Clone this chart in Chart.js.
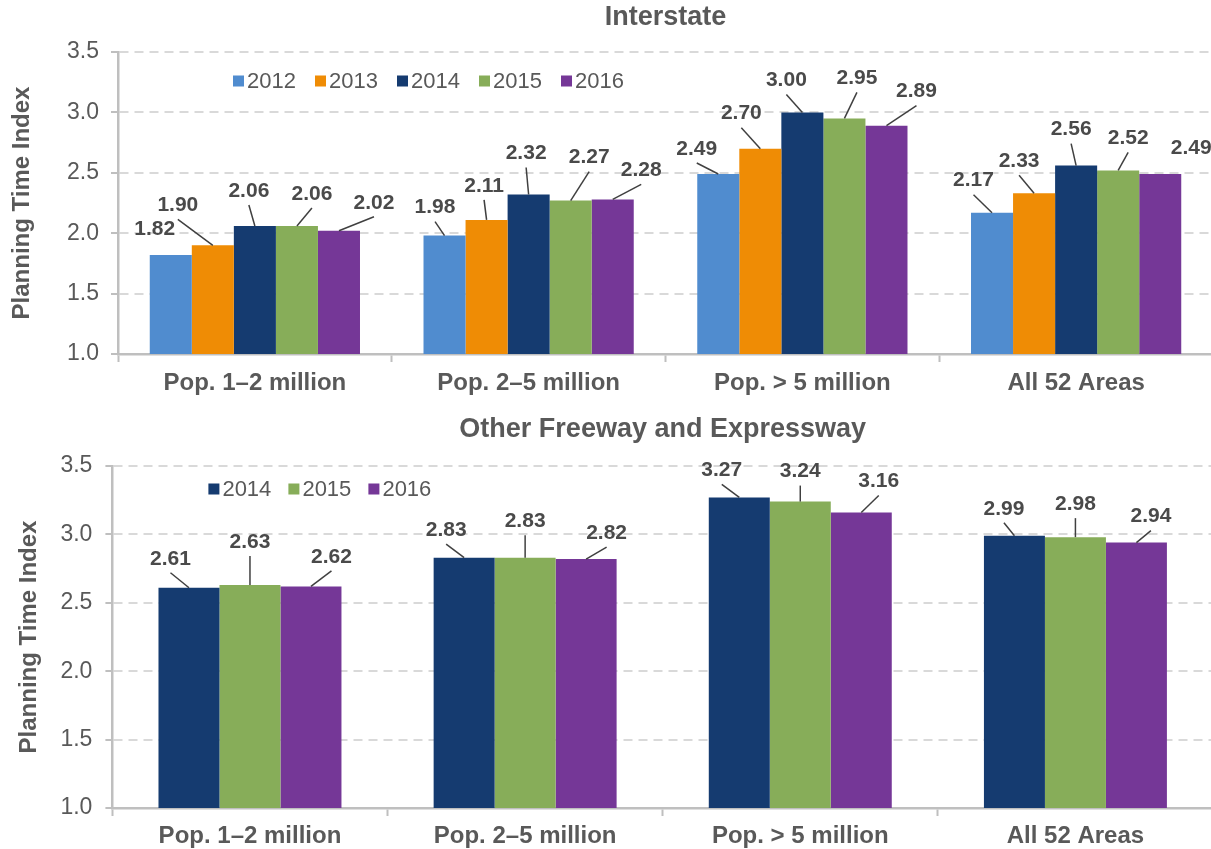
<!DOCTYPE html>
<html><head><meta charset="utf-8">
<script src="https://cdn.jsdelivr.net/npm/chart.js@4.4.0/dist/chart.umd.min.js"></script>
<style>
html,body{margin:0;padding:0;background:#fff;overflow:hidden;width:1211px;height:849px;}
#wrap{position:relative;width:1211px;height:849px;overflow:hidden;}
canvas{position:absolute;left:0;}
#c1{top:0;} #c2{top:410px;}
</style></head><body>
<div id="wrap">
<canvas id="c1" width="1213" height="410"></canvas>
<canvas id="c2" width="1213" height="439"></canvas>
</div>
<script>
// ---- data ----
const categories = ['Pop. 1\u20132 million', 'Pop. 2\u20135 million', 'Pop. > 5 million', 'All 52 Areas'];
const yTickValues = [1.0, 1.5, 2.0, 2.5, 3.0, 3.5];

const interstate2012 = [1.82, 1.98, 2.49, 2.17];
const interstate2013 = [1.90, 2.11, 2.70, 2.33];
const interstate2014 = [2.06, 2.32, 3.00, 2.56];
const interstate2015 = [2.06, 2.27, 2.95, 2.52];
const interstate2016 = [2.02, 2.28, 2.89, 2.49];

const other2014 = [2.61, 2.83, 3.27, 2.99];
const other2015 = [2.63, 2.83, 3.24, 2.98];
const other2016 = [2.62, 2.82, 3.16, 2.94];

// ---- styles ----
const colors = {'2012':'#508ccf','2013':'#ef8c05','2014':'#153b70','2015':'#87ad59','2016':'#753797'};
const FONT = '"Liberation Sans", Arial, Helvetica, sans-serif';
const GRAY = '#595959';
Chart.defaults.font.family = FONT;
Chart.defaults.color = GRAY;

// label placement (offsets of label centre from bar top, leader line flag)
const interstateLabelPos = [
  [[-16,-27,0],[-9.5,-29,1],[-21.5,-26,1],[-18.5,-33,1]],
  [[-35,-41,1],[-2.5,-35,1],[-19,-36,1],[-15,-33,1]],
  [[-6,-36,1],[-2.5,-42,1],[-16,-33,1],[-5,-37,1]],
  [[15,-33,1],[18.5,-44,1],[12.5,-41,1],[10,-33,1]],
  [[35,-29,1],[28.5,-30,1],[30,-35,1],[31,-27,0]]
];
const otherLabelPos = [
  [[-18.5,-30,1],[-18,-28.5,1],[-17.5,-28,1],[-10.5,-28,1]],
  [[0,-44,1],[0,-37.5,1],[0,-31,1],[0,-34,1]],
  [[20.5,-30.5,1],[20.5,-27,1],[17.5,-32,1],[14.5,-27,1]]
];

const inAreaLegend = {
  id: 'inAreaLegend',
  afterDraw(chart, args, opts) {
    const {ctx, chartArea} = chart;
    ctx.save();
    ctx.font = '22px ' + FONT;
    ctx.textBaseline = 'middle';
    ctx.textAlign = 'left';
    chart.data.datasets.forEach((ds, i) => {
      const x = chartArea.left + opts.left + i * opts.spacing;
      const y = chartArea.top + opts.top;
      ctx.fillStyle = ds.backgroundColor;
      ctx.fillRect(x, y - opts.box / 2, opts.box, opts.box);
      ctx.fillStyle = GRAY;
      ctx.fillText(ds.label, x + opts.box + 3, y + 1);
    });
    ctx.restore();
  }
};

const leaderLabels = {
  id: 'leaderLabels',
  afterDatasetsDraw(chart, args, opts) {
    const {ctx} = chart;
    ctx.save();
    ctx.font = 'bold 21px ' + FONT;
    ctx.textAlign = 'center';
    ctx.textBaseline = 'middle';
    ctx.strokeStyle = '#404040';
    ctx.lineWidth = 1.5;
    ctx.fillStyle = '#4a4a4a';
    chart.data.datasets.forEach((ds, di) => {
      const meta = chart.getDatasetMeta(di);
      meta.data.forEach((bar, i) => {
        const [dx, dy, line] = opts.pos[di][i];
        const tx = bar.x + dx, ty = bar.y + dy;
        if (line) {
          ctx.beginPath();
          ctx.moveTo(tx, ty + 15);
          ctx.lineTo(bar.x, bar.y);
          ctx.stroke();
        }
        ctx.fillText(ds.data[i].toFixed(2), tx, ty + 1);
      });
    });
    ctx.restore();
  }
};

function makeDataset(label, data) {
  return {label, data, backgroundColor: colors[label], borderWidth: 0};
}

function makeOptions(cfg) {
  return {
    responsive: false,
    animation: false,
    devicePixelRatio: 1,
    layout: {padding: 0},
    plugins: {
      legend: {display: false},
      tooltip: {enabled: false},
      title: {
        display: true, text: cfg.title, fullSize: false,
        color: GRAY, font: {size: 27, weight: 'bold', lineHeight: 1.2},
        padding: {top: cfg.titleTop, bottom: cfg.titleBottom}
      },
      inAreaLegend: cfg.legend,
      leaderLabels: {pos: cfg.labelPos}
    },
    datasets: {bar: {categoryPercentage: cfg.catPct, barPercentage: 1}},
    scales: {
      x: {
        type: 'category',
        afterFit: (s) => { s.height = cfg.xHeight; },
        grid: {offset: true, drawOnChartArea: false, drawTicks: true, tickLength: 8,
               tickColor: '#bfbfbf', tickWidth: 2},
        border: {display: true, color: '#bfbfbf', width: 2.5},
        ticks: {font: {size: 24, weight: 'bold', lineHeight: 1.2}, color: GRAY, padding: cfg.xPad, maxRotation: 0}
      },
      y: {
        min: yTickValues[0], max: yTickValues[yTickValues.length - 1],
        afterFit: (s) => { s.width = cfg.yWidth; },
        afterBuildTicks: (axis) => { axis.ticks = yTickValues.map(v => ({value: v})); },
        ticks: {font: {size: 23}, color: GRAY, padding: cfg.yPad, callback: (v) => Number(v).toFixed(1)},
        grid: {color: '#d9d9d9', lineWidth: 2, drawTicks: true, tickLength: 7,
               tickColor: '#bfbfbf', tickWidth: 2, tickBorderDash: []},
        border: {display: true, color: '#bfbfbf', width: 2.5, dash: [9, 6]},
        title: {display: true, text: 'Planning Time Index', color: GRAY,
                font: {size: 24, weight: 'bold', lineHeight: 1.2}, padding: {top: cfg.yTitleTop, bottom: 0}}
      }
    }
  };
}

new Chart(document.getElementById('c1'), {
  type: 'bar',
  data: {
    labels: categories,
    datasets: [
      makeDataset('2012', interstate2012),
      makeDataset('2013', interstate2013),
      makeDataset('2014', interstate2014),
      makeDataset('2015', interstate2015),
      makeDataset('2016', interstate2016)
    ]
  },
  options: makeOptions({
    title: 'Interstate', titleTop: 1.8, titleBottom: 17.8,
    legend: {left: 115, top: 29, spacing: 82, box: 11},
    labelPos: interstateLabelPos, catPct: 0.768,
    xHeight: 56, xPad: 6.6, yWidth: 118, yPad: 12, yTitleTop: 7.6
  }),
  plugins: [inAreaLegend, leaderLabels]
});

new Chart(document.getElementById('c2'), {
  type: 'bar',
  data: {
    labels: categories,
    datasets: [
      makeDataset('2014', other2014),
      makeDataset('2015', other2015),
      makeDataset('2016', other2016)
    ]
  },
  options: makeOptions({
    title: 'Other Freeway and Expressway', titleTop: 3.8, titleBottom: 19.8,
    legend: {left: 96, top: 23, spacing: 80, box: 11},
    labelPos: otherLabelPos, catPct: 0.665,
    xHeight: 41, xPad: 5.6, yWidth: 112.4, yPad: 13, yTitleTop: 14.6
  }),
  plugins: [inAreaLegend, leaderLabels]
});
</script>
</body></html>
